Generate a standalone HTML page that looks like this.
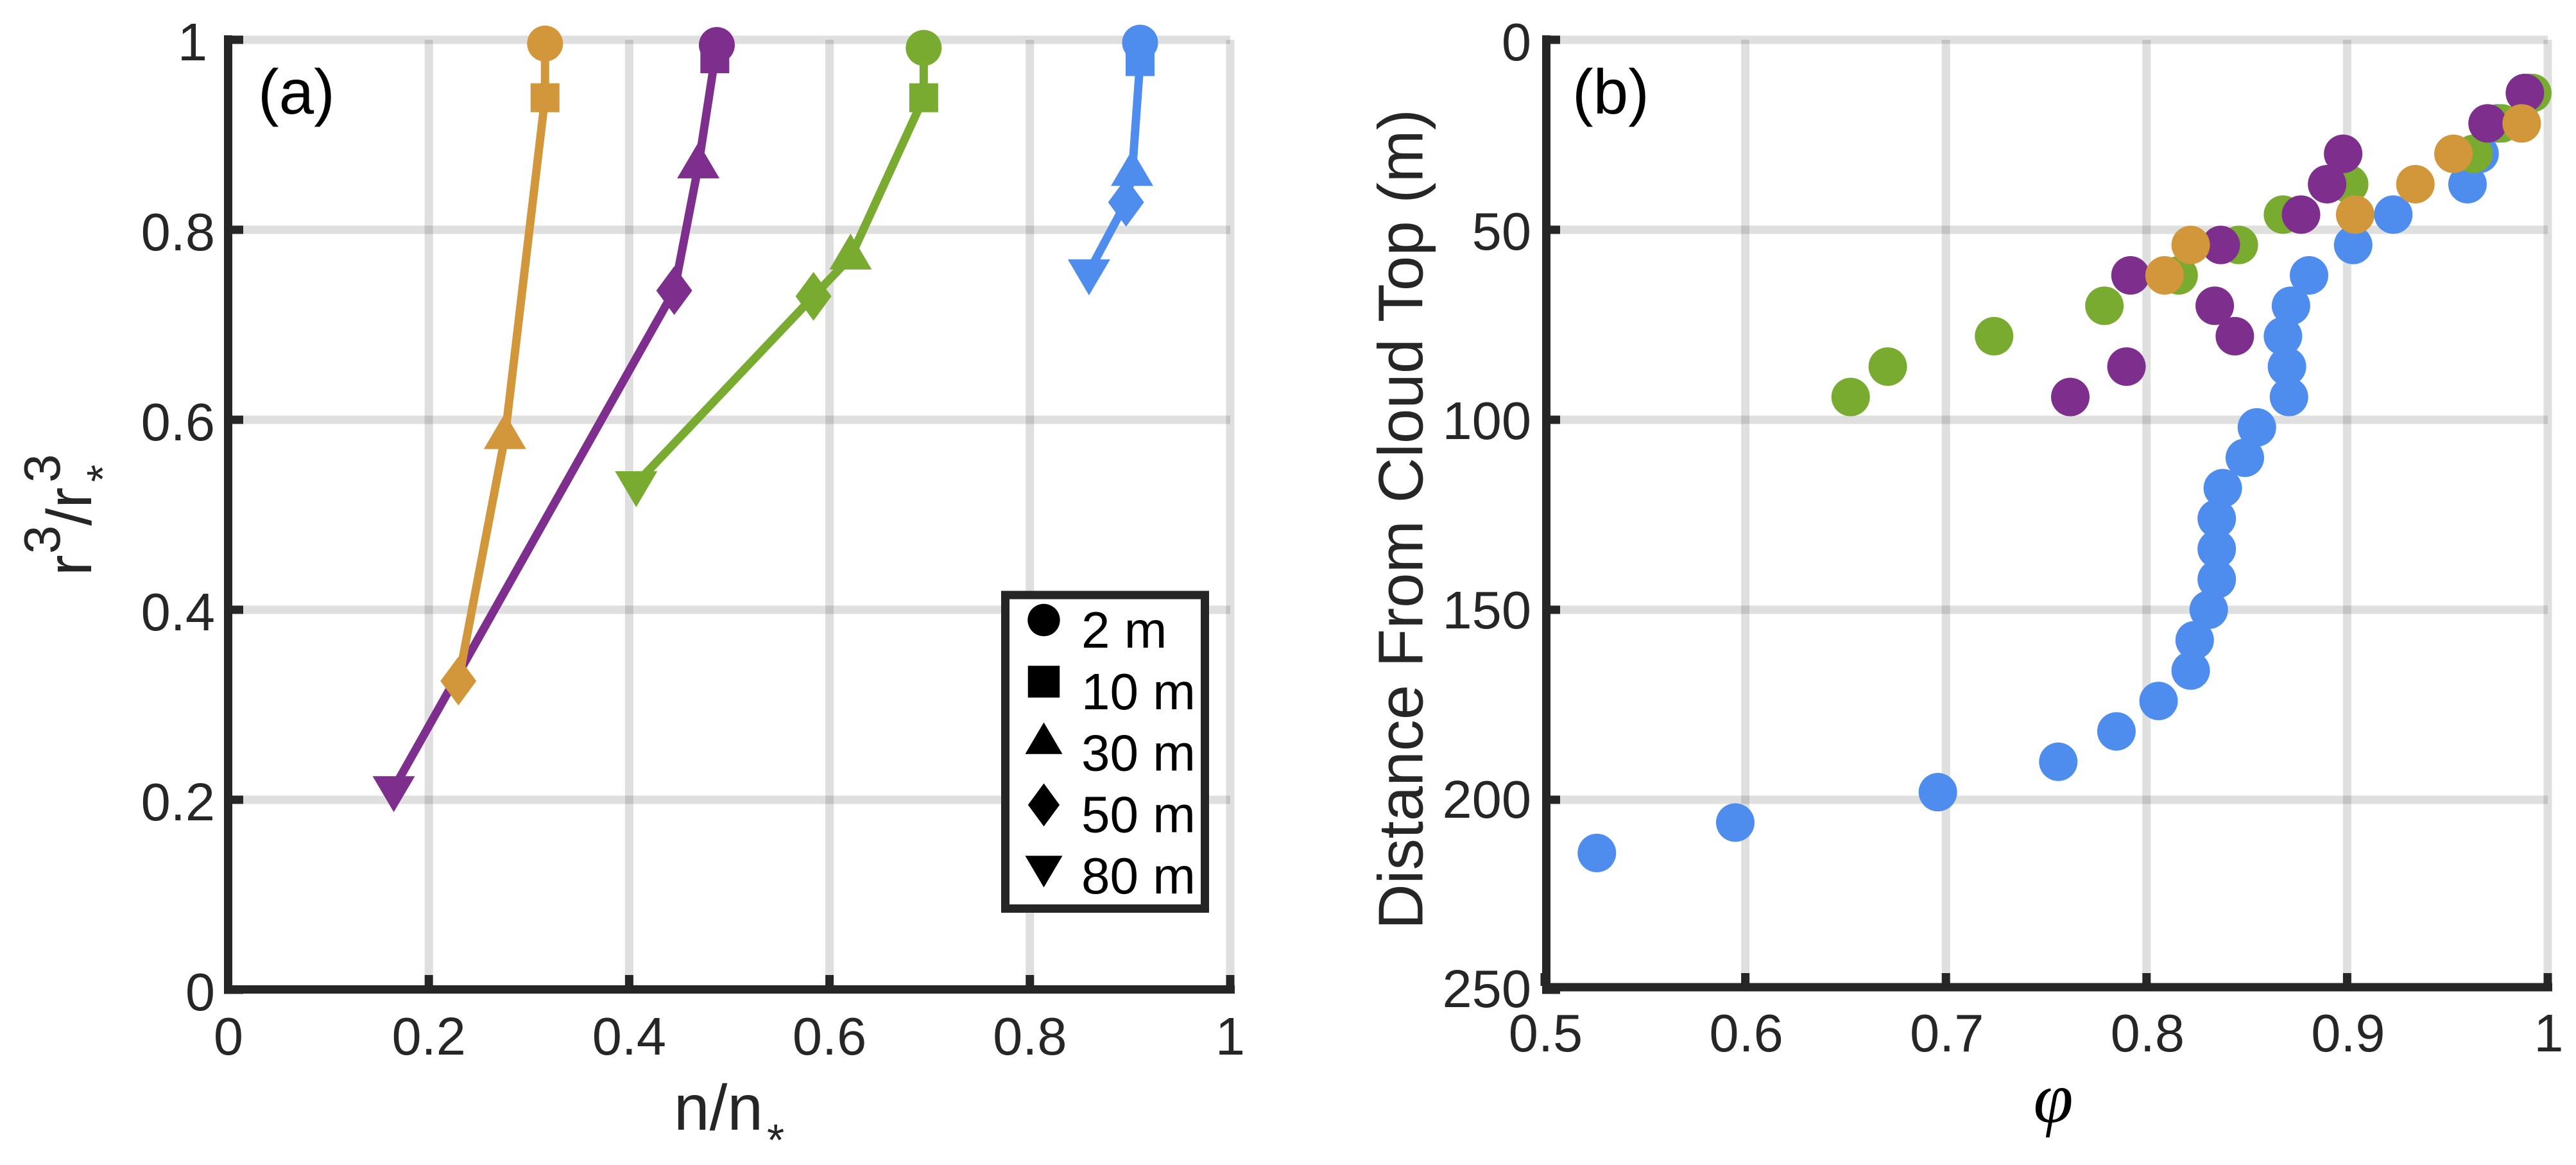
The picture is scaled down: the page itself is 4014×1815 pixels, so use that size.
<!DOCTYPE html>
<html lang="en">
<head>
<meta charset="utf-8">
<title>Cloud microphysics profiles</title>
<style>
html,body{margin:0;padding:0;background:#fff;}
svg{display:block;}
text{font-family:"Liberation Sans",sans-serif;}
.tick{font-size:83px;fill:#262626;}
.lab{font-size:98px;fill:#262626;}
.leg{font-size:80px;fill:#000;}
.tag{font-size:98px;fill:#000;}
</style>
</head>
<body>
<svg id="fig" xmlns="http://www.w3.org/2000/svg" width="4014" height="1815" viewBox="0 0 4014 1815">
  <rect width="4014" height="1815" fill="#fff"/>
  <g id="a-grid"></g>
  <g id="b-grid"></g>
  <g id="a-data"></g>
  <g id="b-data"></g>
  <g id="a-axes"></g>
  <g id="b-axes"></g>

  <text class="tag" x="402" y="177">(a)</text>
  <text class="tag" x="2450" y="177">(b)</text>

  <g>
    <text x="1050" y="1760" style="font-size:100px;fill:#262626">n/n</text>
    <text x="1195" y="1800" style="font-size:70px;fill:#262626">*</text>
  </g>
  <g transform="translate(142,890) rotate(-90)">
    <text x="-7" y="0" style="font-size:98px;fill:#262626">r</text>
    <text x="27" y="-49" style="font-size:80px;fill:#262626">3</text>
    <text x="71" y="0" style="font-size:98px;fill:#262626">/r</text>
    <text x="138" y="-49" style="font-size:80px;fill:#262626">3</text>
    <text x="139" y="42" style="font-size:70px;fill:#262626">*</text>
  </g>
  <text class="lab" transform="translate(2216.5,1448) rotate(-90)" x="0" y="0">Distance From Cloud Top (m)</text>
  <text x="3199.5" y="1748" text-anchor="middle" style="font-family:'Liberation Serif',serif;font-style:italic;font-size:112px;fill:#000">φ</text>

  <g>
    <rect x="1566.5" y="927" width="311" height="488.5" fill="#fff" stroke="#262626" stroke-width="13"/>
    <g id="legend-entries"></g>
  </g>
</svg>

<script>
// ---- Panel (a) data ----
const markerDepths = ['2 m', '10 m', '30 m', '50 m', '80 m'];
const blueN = [0.910, 0.910, 0.902, 0.896, 0.859];
const blueR = [0.997, 0.977, 0.859, 0.829, 0.756];
const greenN = [0.694, 0.694, 0.621, 0.584, 0.407];
const greenR = [0.9915, 0.939, 0.771, 0.730, 0.533];
const purpleN = [0.4875, 0.4855, 0.469, 0.445, 0.165];
const purpleR = [0.9945, 0.980, 0.867, 0.736, 0.212];
const orangeN = [0.316, 0.316, 0.276, 0.2295];
const orangeR = [0.996, 0.939, 0.582, 0.325];

// ---- Panel (b) data ----
const blueDepth = [14, 22, 30, 38, 46, 54, 62, 70, 78, 86, 94, 102, 110, 118, 126, 134, 142, 150, 158, 166, 174, 182, 190, 198, 206, 214];
const bluePhi = [0.990, 0.975, 0.966, 0.960, 0.923, 0.903, 0.881, 0.872, 0.868, 0.870, 0.871, 0.855, 0.849, 0.838, 0.835, 0.835, 0.835, 0.831, 0.824, 0.822, 0.806, 0.785, 0.756, 0.696, 0.595, 0.526];
const greenDepth = [14, 22, 30, 38, 46, 54, 62, 70, 78, 86, 94];
const greenPhi = [0.9923, 0.977, 0.963, 0.901, 0.868, 0.846, 0.816, 0.779, 0.724, 0.671, 0.6525];
const purpleDepth = [14, 22, 30, 38, 46, 54, 62, 70, 78, 86, 94];
const purplePhi = [0.9886, 0.970, 0.898, 0.890, 0.877, 0.837, 0.792, 0.834, 0.844, 0.790, 0.762];
const orangeDepth = [22, 30, 38, 46, 54, 62];
const orangePhi = [0.987, 0.953, 0.934, 0.904, 0.822, 0.809];

// ---- Tick labels ----
const aTicks = ['0', '0.2', '0.4', '0.6', '0.8', '1'];
const bXTicks = ['0.5', '0.6', '0.7', '0.8', '0.9', '1'];
const bYTicks = ['0', '50', '100', '150', '200', '250'];

const BLUE = '#4e8ded', GREEN = '#78ab30', PURPLE = '#7e2f8e', ORANGE = '#d2973a';
const INK = '#262626', GRID = 'rgba(38,38,38,0.15)';
const SVGNS = 'http://www.w3.org/2000/svg';

// axis functions
function ax(v) { return 356 + v * 1561; }
function ay(v) { return 1542 - v * 1480; }
function bx(v) { return 2407 + (v - 0.5) * 3126; }
function by(v) { return 62 + v * 5.92; }

function mk(tag, parent) {
  const el = document.createElementNS(SVGNS, tag);
  parent.appendChild(el);
  return el;
}
function bar(parent, x, y, w, h, fill) {
  const el = mk('rect', parent);
  el.setAttribute('x', x);
  el.setAttribute('y', y);
  el.setAttribute('width', w);
  el.setAttribute('height', h);
  el.setAttribute('fill', fill);
  return el;
}
function markerPath(kind, x, y, s) {
  if (kind === 1) { const r = 22.5 * s; return `M${x - r} ${y - r}H${x + r}V${y + r}H${x - r}Z`; }
  if (kind === 2) { return `M${x} ${y - 37 * s}L${x + 33 * s} ${y + 19 * s}H${x - 33 * s}Z`; }
  if (kind === 3) { return `M${x} ${y - 38 * s}L${x + 28 * s} ${y}L${x} ${y + 38 * s}L${x - 28 * s} ${y}Z`; }
  if (kind === 4) { return `M${x - 33 * s} ${y - 19 * s}H${x + 33 * s}L${x} ${y + 37 * s}Z`; }
  return '';
}
function drawMarker(parent, kind, x, y, color, s) {
  let el;
  if (kind === 0) {
    el = mk('circle', parent);
    el.setAttribute('cx', x);
    el.setAttribute('cy', y);
    el.setAttribute('r', 28 * s);
  } else {
    el = mk('path', parent);
    el.setAttribute('d', markerPath(kind, x, y, s));
  }
  el.setAttribute('fill', color);
  return el;
}

// ---- grids ----
const aGrid = document.getElementById('a-grid');
aTicks.forEach(function (t) {
  const v = parseFloat(t);
  if (v > 0) {
    const g = bar(aGrid, ax(v) - 6.5, 62, 13, 1480, GRID);
    
    
    const h = bar(aGrid, 356, ay(v) - 6.5, ax(1) - 356, 13, GRID);
    
    
  }
});
const bGrid = document.getElementById('b-grid');
bXTicks.forEach(function (t) {
  const v = parseFloat(t);
  if (v > 0.5) {
    const g = bar(bGrid, bx(v) - 6.5, 62, 13, 1476, GRID);
    
    
  }
});
bYTicks.forEach(function (t) {
  const v = parseFloat(t);
  if (v < 250) {
    const h = bar(bGrid, 2407, by(v) - 6.5, bx(1) - 2407, 13, GRID);
    
    
  }
});

// ---- panel a series ----
const aData = document.getElementById('a-data');
function drawProfile(name, ns, rs, color) {
  const g = mk('g', aData);
  
  
  const line = mk('polyline', g);
  
  
  line.setAttribute('points', ns.map(function (n, i) { return ax(n) + ',' + ay(rs[i]); }).join(' '));
  line.setAttribute('fill', 'none');
  line.setAttribute('stroke', color);
  line.setAttribute('stroke-width', 13);
  line.setAttribute('stroke-linejoin', 'round');
  ns.forEach(function (n, i) {
    const m = drawMarker(g, i, ax(n), ay(rs[i]), color, 1);
    
    
  });
}
drawProfile('profile-blue', blueN, blueR, BLUE);
drawProfile('profile-green', greenN, greenR, GREEN);
drawProfile('profile-purple', purpleN, purpleR, PURPLE);
drawProfile('profile-orange', orangeN, orangeR, ORANGE);

// ---- panel b series ----
const bData = document.getElementById('b-data');
function drawScatter(name, phis, depths, color) {
  const g = mk('g', bData);
  
  
  phis.forEach(function (p, i) {
    const c = mk('circle', g);
    
    
    c.setAttribute('cx', bx(p));
    c.setAttribute('cy', by(depths[i]));
    c.setAttribute('r', 30);
    c.setAttribute('fill', color);
  });
}
drawScatter('scatter-blue', bluePhi, blueDepth, BLUE);
drawScatter('scatter-green', greenPhi, greenDepth, GREEN);
drawScatter('scatter-purple', purplePhi, purpleDepth, PURPLE);
drawScatter('scatter-orange', orangePhi, orangeDepth, ORANGE);

// ---- axes ----
function tickLabel(parent, str, x, y, anchor) {
  const t = mk('text', parent);
  t.setAttribute('class', 'tick');
  
  
  t.setAttribute('x', x);
  t.setAttribute('y', y);
  t.setAttribute('text-anchor', anchor);
  t.textContent = str;
}
const aAxes = document.getElementById('a-axes');
let s1 = bar(aAxes, 349, 55, 13, 1493, INK);


let s2 = bar(aAxes, 349, 1535, 1575, 13, INK);


aTicks.forEach(function (t) {
  const v = parseFloat(t);
  const tx = bar(aAxes, ax(v) - 6.5 + (v === 0 ? -0.5 : 0), 1519, 13, 20, INK);
  
  
  const ty = bar(aAxes, 349, ay(v) - 6.5, 30, 13, INK);
  
  
  tickLabel(aAxes, t, ax(v), 1643, 'middle');
  tickLabel(aAxes, t, v === 1 ? 323 : 335, ay(v) + 32, 'end');
});
const bAxes = document.getElementById('b-axes');
let s3 = bar(bAxes, 2403, 55, 13, 1490, INK);


let s4 = bar(bAxes, 2403, 1531.5, 1574, 13, INK);


bXTicks.forEach(function (t) {
  const v = parseFloat(t);
  const tx = bar(bAxes, bx(v) - 6.5, 1516, 13, 20, INK);
  
  
  tickLabel(bAxes, t, bx(v) + 1.5, 1638, 'middle');
});
bYTicks.forEach(function (t) {
  const v = parseFloat(t);
  const ty = bar(bAxes, 2403, by(v) - 6.5, 28, 13, INK);
  
  
  tickLabel(bAxes, t, 2386, by(v) + 32 - v * 0.02, 'end');
});

// ---- legend ----
const legendEntries = document.getElementById('legend-entries');
markerDepths.forEach(function (label, i) {
  const cy = 966 + i * 96;
  const m = drawMarker(legendEntries, i, 1626.5, cy, '#000', i === 0 ? 0.9 : (i === 1 ? 1.1 : 0.88));
  
  
  const t = mk('text', legendEntries);
  t.setAttribute('class', 'leg');
  
  
  t.setAttribute('x', 1685);
  t.setAttribute('y', 1009 + i * 95.8);
  t.textContent = label;
});
</script>
</body>
</html>
